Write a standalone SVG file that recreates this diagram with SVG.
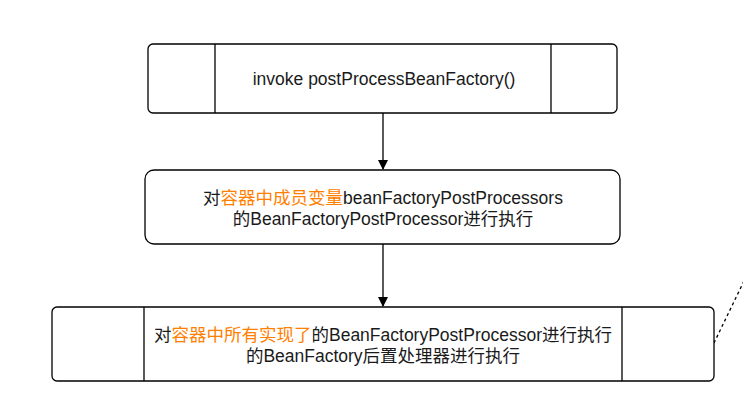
<svg xmlns="http://www.w3.org/2000/svg" width="743" height="402" viewBox="0 0 743 402">
<style>
.box{fill:#fff;stroke:#000;stroke-width:1.3}
.div{stroke:#000;stroke-width:1.3;fill:none}
.t{font-family:"Liberation Sans","Noto Sans CJK SC",sans-serif;font-size:17.5px;fill:#1a1a1a;text-anchor:middle}
.o{fill:#ff8000}
.edge{stroke:#000;stroke-width:1.3;fill:none}
</style>
<defs>
<marker id="arr" viewBox="0 0 10 10" refX="9" refY="5" markerWidth="10" markerHeight="10" markerUnits="userSpaceOnUse" orient="auto">
<path d="M0,0 L10,5 L0,10 Z" fill="#000"/>
</marker>
</defs>
<rect width="743" height="402" fill="#fff"/>
<g id="connectors">
<line class="edge" x1="383" y1="113" x2="383" y2="169" marker-end="url(#arr)"/>
<line class="edge" x1="383" y1="244" x2="383" y2="306" marker-end="url(#arr)"/>
<line class="edge" x1="714" y1="343" x2="744" y2="281" stroke-dasharray="3 3"/>
</g>
<g id="node1">
<rect class="box" x="148" y="44" width="469" height="69" rx="5"/>
<line class="div" x1="215" y1="44" x2="215" y2="113"/>
<line class="div" x1="551" y1="44" x2="551" y2="113"/>
<text class="t" x="384" y="85">invoke postProcessBeanFactory()</text>
</g>
<g id="node2">
<rect class="box" x="145" y="170" width="475" height="74" rx="9"/>
<text class="t" x="383" y="204">对<tspan class="o">容器中成员变量</tspan>beanFactoryPostProcessors</text>
<text class="t" x="383" y="225">的BeanFactoryPostProcessor进行执行</text>
</g>
<g id="node3">
<rect class="box" x="52" y="307" width="662" height="74" rx="5"/>
<line class="div" x1="144" y1="307" x2="144" y2="381"/>
<line class="div" x1="622" y1="307" x2="622" y2="381"/>
<text class="t" x="383" y="341">对<tspan class="o">容器中所有实现了</tspan>的BeanFactoryPostProcessor进行执行</text>
<text class="t" x="383" y="362">的BeanFactory后置处理器进行执行</text>
</g>
</svg>
